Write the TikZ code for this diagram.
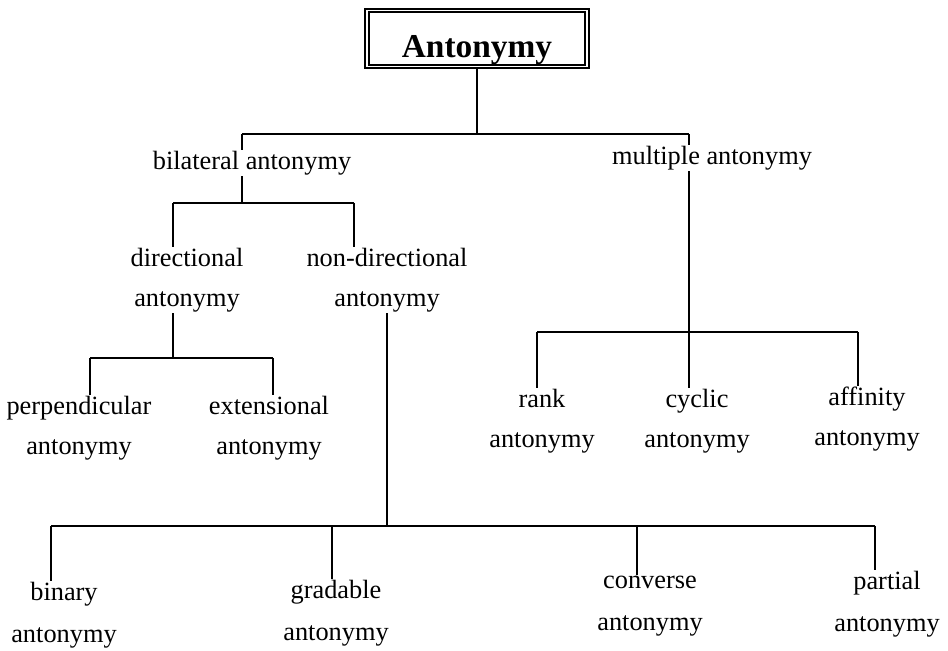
\documentclass[tikz,border=0pt]{standalone}
\usepackage{fontspec}
\setmainfont{Liberation Serif}

\tikzstyle{titlebox} = [draw,double,double distance=1.1pt,line width=1.05pt,font=\fontsize{19}{23}\selectfont\bfseries,minimum width=4.41cm,minimum height=1.12cm,text height=0.76cm,text depth=0pt]
\tikzstyle{term} = [inner sep=0.5pt,align=center,font=\fontsize{15}{22.7}\selectfont]
\tikzstyle{lowterm} = [term,font=\fontsize{15}{23.8}\selectfont]
\tikzstyle{branch} = [draw,line width=1.1pt,-]

\begin{document}
\begin{tikzpicture}[x=0.02cm,y=-0.02cm]
    \useasboundingbox (0,0) rectangle (948,651);

    \node[titlebox] (antonymy) at (477,38.5) {Antonymy};

    % terms on one line
    \foreach \nodename/\x/\y/\words in {
      bilateral/252/163/bilateral antonymy,
      multiple/712/158/multiple antonymy}
    {
      \node[term] (\nodename) at (\x,\y) {\words};
    }

    % terms on two lines
    \foreach \nodename/\x/\y/\words in {
      directional/187/280/directional\\antonymy,
      nondirectional/387/280/non-directional\\antonymy,
      perpendicular/79/428/perpendicular\\antonymy,
      extensional/269/428/extensional\\antonymy,
      rank/542/421/rank\\antonymy,
      cyclic/697/421/cyclic\\antonymy,
      affinity/867/419/affinity\\antonymy}
    {
      \node[term] (\nodename) at (\x,\y) {\words};
    }

    \foreach \nodename/\x/\y/\words in {
      binary/64/615/binary\\antonymy,
      gradable/336/613/gradable\\antonymy,
      converse/650/606/converse\\antonymy,
      partial/887/604/partial\\antonymy}
    {
      \node[lowterm] (\nodename) at (\x,\y) {\words};
    }

    % drops from the bars
    \foreach \nodename/\x/\y in {
      bilateral/242/134, multiple/689/134,
      directional/173/203, nondirectional/354/203,
      perpendicular/90/358, extensional/273/358,
      rank/537/332, cyclic/689/332, affinity/858/332,
      binary/51/526, gradable/332/526, converse/637/526, partial/875/526}
    {
      \coordinate (j-\nodename) at (\x,\y);
      \draw[branch] (j-\nodename) -- (j-\nodename |- \nodename.north);
    }

    %bars and stems
    \draw[branch] (antonymy.south) -- (antonymy.south |- j-bilateral);
    \draw[branch] (j-bilateral) -- (j-multiple);
    \draw[branch] (j-bilateral |- bilateral.south) -- (j-bilateral |- j-directional);
    \draw[branch] (j-directional) -- (j-nondirectional);
    \draw[branch] (j-directional |- directional.south) -- (j-directional |- j-perpendicular);
    \draw[branch] (j-perpendicular) -- (j-extensional);
    \draw[branch] (j-multiple |- multiple.south) -- (j-cyclic);
    \draw[branch] (j-rank) -- (j-affinity);
    \draw[branch] (nondirectional.south) -- (nondirectional.south |- j-binary);
    \draw[branch] (j-binary) -- (j-partial);
\end{tikzpicture}
\end{document}
